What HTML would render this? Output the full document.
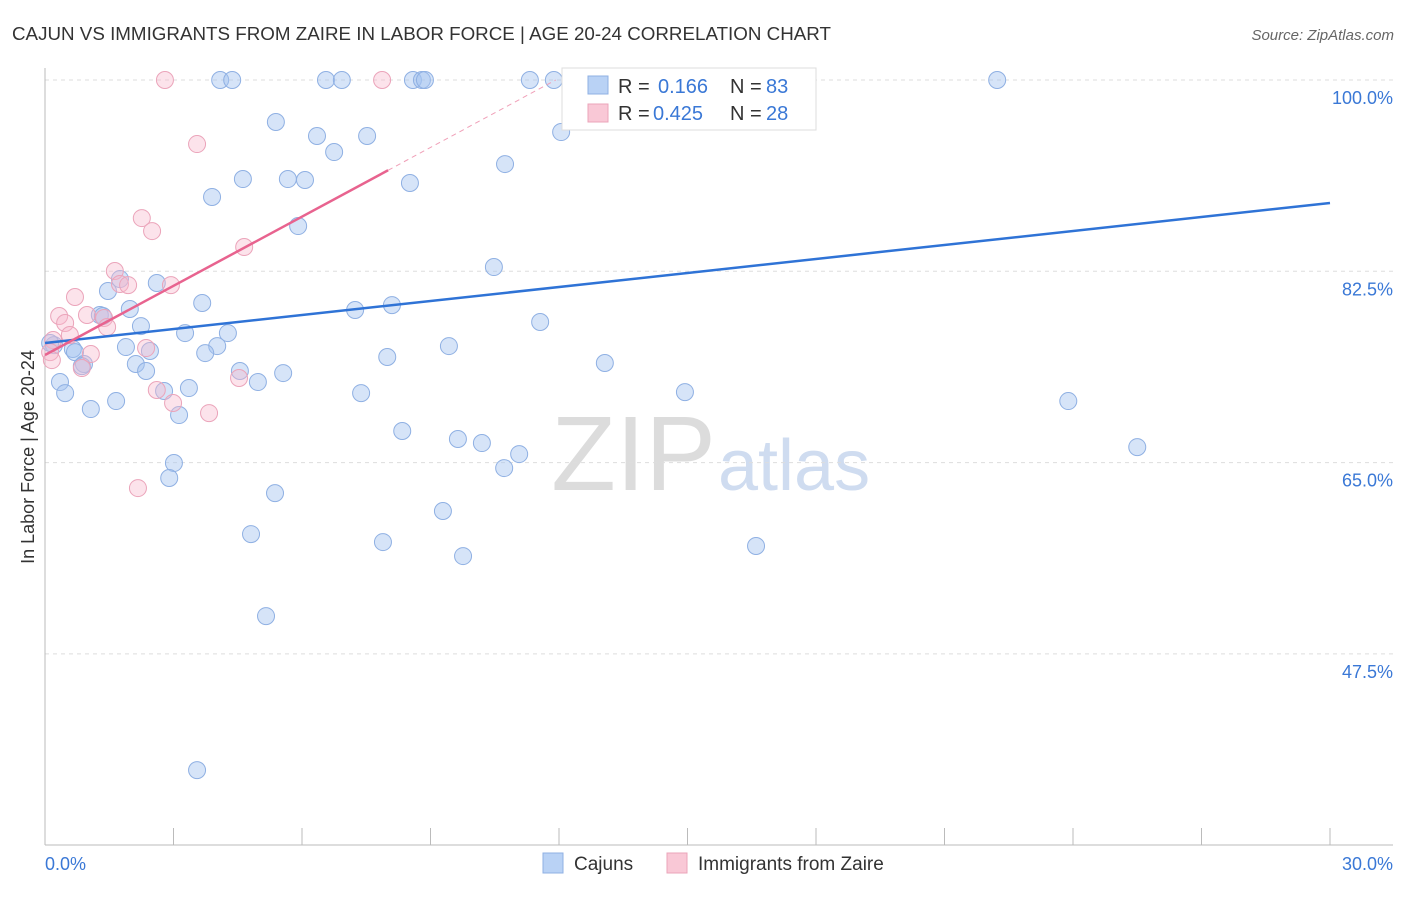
<!DOCTYPE html>
<html><head><meta charset="utf-8"><style>
body{margin:0;background:#fff;font-family:"Liberation Sans",sans-serif;}
svg text{font-family:"Liberation Sans",sans-serif;}
</style></head><body>
<svg id="chart" width="1406" height="892" xmlns="http://www.w3.org/2000/svg">
<text x="12" y="40" font-size="18" fill="#333" textLength="819" lengthAdjust="spacingAndGlyphs">CAJUN VS IMMIGRANTS FROM ZAIRE IN LABOR FORCE | AGE 20-24 CORRELATION CHART</text>
<text x="1394" y="40" font-size="15" fill="#666" text-anchor="end" font-style="italic">Source: ZipAtlas.com</text>
<text x="716" y="490" font-size="106" fill="#dcdcdc" text-anchor="end" font-family="Liberation Serif">ZIP</text>
<text x="718" y="490" font-size="72" fill="#cfdcf0">atlas</text>
<text transform="translate(34,457) rotate(-90)" font-size="18" fill="#333" text-anchor="middle">In Labor Force | Age 20-24</text>
<g id="grid"></g><g id="marks"></g>
<g>
<rect x="562" y="68" width="254" height="62" fill="#fff" stroke="#ddd"/>
<rect x="588" y="76" width="20" height="18" fill="#b9d2f5" stroke="#8fb0e3"/>
<text x="618" y="93" font-size="20" fill="#333">R = </text><text x="658" y="93" font-size="20" fill="#3a78d6">0.166</text>
<text x="730" y="93" font-size="20" fill="#333">N = </text><text x="766" y="93" font-size="20" fill="#3a78d6">83</text>
<rect x="588" y="104" width="20" height="18" fill="#f9c8d6" stroke="#eba4ba"/>
<text x="618" y="120" font-size="20" fill="#333">R = </text><text x="653" y="120" font-size="20" fill="#3a78d6">0.425</text>
<text x="730" y="120" font-size="20" fill="#333">N = </text><text x="766" y="120" font-size="20" fill="#3a78d6">28</text>
</g>
<g>
<rect x="543" y="853" width="20" height="20" fill="#b9d2f5" stroke="#8fb0e3"/>
<text x="574" y="870" font-size="19" fill="#333">Cajuns</text>
<rect x="667" y="853" width="20" height="20" fill="#f9c8d6" stroke="#eba4ba"/>
<text x="698" y="870" font-size="19" fill="#333">Immigrants from Zaire</text>
</g>
</svg>
<script>
const blueX=[4.09,4.37,6.56,6.93,8.59,8.80,8.87,11.32,11.88,17.63,22.23,5.39,6.35,7.52,6.75,12.05,3.90,4.62,5.67,6.07,8.52,10.74,5.91,10.48,2.61,1.75,1.47,3.67,1.98,2.24,7.24,8.10,11.56,3.27,4.27,1.89,2.45,4.02,3.74,0.21,0.65,0.70,1.28,1.35,9.43,7.99,13.07,2.12,2.36,0.91,0.86,4.55,5.56,4.97,0.35,0.47,2.78,3.36,7.38,14.94,1.66,1.07,3.13,23.89,8.34,9.64,10.20,11.07,10.72,25.50,3.01,2.90,5.37,9.29,4.81,7.89,9.76,16.60,5.16,3.55,0.12];
const blueY=[100,100,100,100,100,100,100,100,100,100,100,96.16,94.88,94.88,93.41,95.24,89.30,90.94,90.94,90.85,90.58,92.31,86.64,82.89,81.43,81.79,80.70,79.60,79.05,77.49,78.96,79.41,77.86,76.85,76.85,75.57,75.21,75.66,75.02,75.75,75.39,75.11,78.50,78.41,75.66,74.66,74.11,74.02,73.38,74.02,73.83,73.38,73.19,72.37,72.37,71.36,71.55,71.82,71.36,71.45,70.63,69.90,69.35,70.63,67.89,67.16,66.79,65.78,64.50,66.42,64.96,63.59,62.21,60.57,58.46,57.73,56.45,57.37,50.96,36.87,75.94];
const pinkX=[2.80,7.87,3.55,2.26,2.50,4.65,1.63,1.75,1.94,2.94,0.70,0.33,0.47,0.98,1.38,1.45,0.58,0.19,0.12,1.07,2.36,0.86,2.61,2.99,3.83,4.53,2.17,0.16];
const pinkY=[100,100,94.14,87.37,86.18,84.72,82.53,81.34,81.24,81.24,80.15,78.41,77.77,78.50,78.23,77.40,76.67,76.21,75.11,74.93,75.48,73.65,71.64,70.45,69.53,72.74,62.67,74.38];
const blueTrend=[75.94,88.75];
const pinkTrend=[74.84,2.11];
const yTicks=[100,82.5,65,47.5];
const yTickLabels=["100.0%","82.5%","65.0%","47.5%"];
const xLabels=["0.0%","30.0%"];
const NS="http://www.w3.org/2000/svg";
const xs=v=>45+v*1285/30;
const ys=v=>80+(100-v)*191.3/17.5;
function mk(tag,attrs,parent){const e=document.createElementNS(NS,tag);for(const k in attrs)e.setAttribute(k,attrs[k]);parent.appendChild(e);return e;}
const grid=document.getElementById('grid'),marks=document.getElementById('marks');
yTicks.forEach((t,i)=>{
 const l=mk('line',{x1:45,x2:1393,y1:ys(t),y2:ys(t),stroke:'#ddd','stroke-dasharray':'4,4'},grid);
 
 
 const tx=mk('text',{x:1393,y:ys(t)+24,'font-size':18,fill:'#3a78d6','text-anchor':'end'},grid);tx.textContent=yTickLabels[i];
 
 
});
let a=mk('line',{x1:45,x2:45,y1:68,y2:845,stroke:'#bbb'},grid);


a=mk('line',{x1:45,x2:1393,y1:845,y2:845,stroke:'#bbb'},grid);


for(let i=0;i<=10;i++){const t=mk('line',{x1:xs(i*3),x2:xs(i*3),y1:828,y2:845,stroke:'#bbb'},grid);
 
 }
let xl=mk('text',{x:45,y:870,'font-size':18,fill:'#3a78d6'},grid);xl.textContent=xLabels[0];


xl=mk('text',{x:1393,y:870,'font-size':18,fill:'#3a78d6','text-anchor':'end'},grid);xl.textContent=xLabels[1];


blueX.forEach((x,i)=>{const c=mk('circle',{cx:xs(x),cy:ys(blueY[i]),r:8.5,fill:'rgba(164,196,240,0.45)',stroke:'#8fb0e3','stroke-width':1},marks);
 
 });
pinkX.forEach((x,i)=>{const c=mk('circle',{cx:xs(x),cy:ys(pinkY[i]),r:8.5,fill:'rgba(247,185,205,0.4)',stroke:'#eba4ba','stroke-width':1},marks);
 
 });
let tl=mk('line',{x1:xs(0),y1:ys(blueTrend[0]),x2:xs(30),y2:ys(blueTrend[1]),stroke:'#2f73d6','stroke-width':2.5},marks);


const pxEnd=8.01,pxDash=(100-pinkTrend[0])/pinkTrend[1];
tl=mk('line',{x1:xs(0),y1:ys(pinkTrend[0]),x2:xs(pxEnd),y2:ys(pinkTrend[0]+pinkTrend[1]*pxEnd),stroke:'#e8638f','stroke-width':2.5},marks);


tl=mk('line',{x1:xs(pxEnd),y1:ys(pinkTrend[0]+pinkTrend[1]*pxEnd),x2:xs(pxDash),y2:ys(100),stroke:'#f0a0b8','stroke-width':1,'stroke-dasharray':'5,4'},marks);


</script>
</body></html>
